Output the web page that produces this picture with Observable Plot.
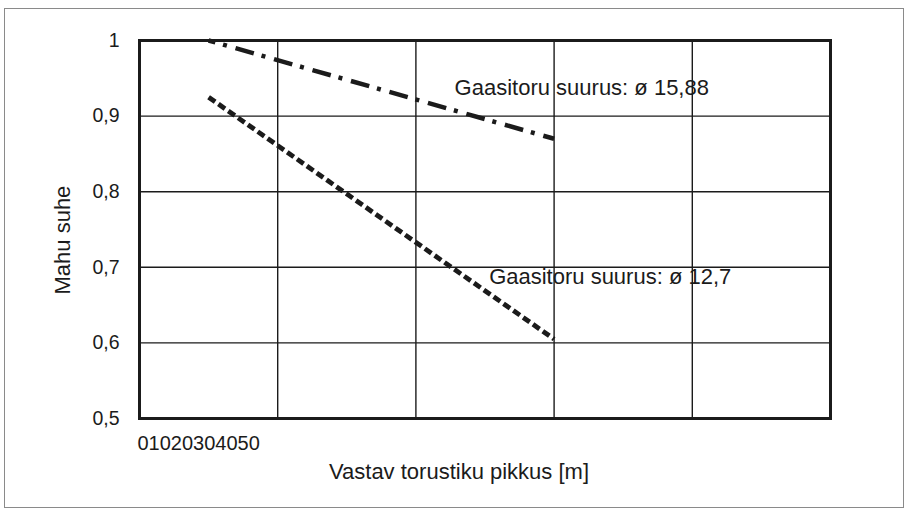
<!DOCTYPE html>
<html>
<head>
<meta charset="utf-8">
<script src="https://cdn.jsdelivr.net/npm/d3@7"></script>
<script src="https://cdn.jsdelivr.net/npm/@observablehq/plot@0.6"></script>
<style>
  html, body { margin: 0; padding: 0; background: #fff; }
  #wrap { position: relative; width: 907px; height: 512px; }
  #border { position: absolute; left: 4px; top: 8px; width: 900px; height: 500px;
            box-sizing: border-box; border: 1.5px solid #8a8a8a; pointer-events: none; }
</style>
</head>
<body>
<div id="wrap"><div id="border"></div></div>
<script>
// Data
const lengthsM = [5, 30];                 // Vastav torustiku pikkus [m]
const ratio1588 = [1.0, 0.87];           // Gaasitoru suurus ø 15,88
const ratio127 = [0.925, 0.605];         // Gaasitoru suurus ø 12,7
const seriesNames = ["Gaasitoru suurus: ø 15,88", "Gaasitoru suurus: ø 12,7"];
const labelX = [22.8, 25.3];
const labelY = [0.937, 0.687];
const xTickValues = [0, 10, 20, 30, 40, 50];
const xTickLabels = ["0", "10", "20", "30", "40", "50"];
const yTickValues = [0.5, 0.6, 0.7, 0.8, 0.9, 1];
const xTitle = "Vastav torustiku pikkus [m]";
const yTitle = "Mahu suhe";

const s1 = lengthsM.map((x, i) => ({x, y: ratio1588[i]}));
const s2 = lengthsM.map((x, i) => ({x, y: ratio127[i]}));
const labels = seriesNames.map((t, i) => ({t, x: labelX[i], y: labelY[i]}));

const ink = "#1b1b1b";

const chart = Plot.plot({
  width: 907,
  height: 512,
  marginLeft: 139,
  marginRight: 77,
  marginTop: 40,
  marginBottom: 94,
  style: {fontFamily: "'Liberation Sans', Arial, sans-serif", fontSize: "19px", color: ink, background: "transparent"},
  x: {domain: [0, 50]},
  y: {domain: [0.5, 1]},
  marks: [
    Plot.gridX(xTickValues, {stroke: ink, strokeOpacity: 1, strokeWidth: 1.4}),
    Plot.gridY(yTickValues, {stroke: ink, strokeOpacity: 1, strokeWidth: 1.4}),
    Plot.axisY(yTickValues, {
      tickSize: 0, tickPadding: 20, fontSize: 19.5, label: null,
      tickFormat: d => String(d).replace(".", ",")
    }),
    Plot.axisX([0], {
      tickSize: 0, tickPadding: 17, fontSize: 20, label: null,
      textAnchor: "start", dx: -2,
      tickFormat: () => xTickLabels.join("")
    }),
    Plot.frame({stroke: ink, strokeWidth: 3}),
    Plot.line(s1, {x: "x", y: "y", stroke: ink, strokeWidth: 4.5, strokeDasharray: "19,8,4,9", strokeDashoffset: 12, strokeLinecap: "butt"}),
    Plot.line(s2, {x: "x", y: "y", stroke: ink, strokeWidth: 4.8, strokeDasharray: "8,4", strokeLinecap: "butt"}),
    Plot.text(labels, {x: "x", y: "y", text: "t", textAnchor: "start", fontSize: 22, fill: ink}),
    Plot.text([xTitle], {frameAnchor: "bottom", dy: 60, dx: -26, fontSize: 22, fill: ink}),
    Plot.text([yTitle], {frameAnchor: "left", dx: -77, dy: 65, rotate: -90, fontSize: 22, fill: ink})
  ]
});
document.getElementById("wrap").prepend(chart);
</script>
</body>
</html>
